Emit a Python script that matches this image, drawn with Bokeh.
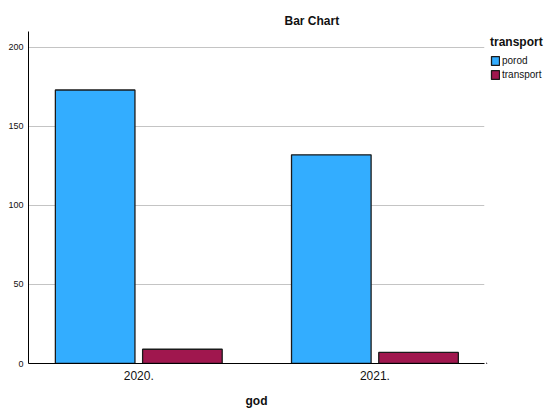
from bokeh.plotting import figure
from bokeh.models import (ColumnDataSource, Range1d, FixedTicker, Legend, LegendItem)
from bokeh.layouts import row
from bokeh.transform import dodge
from bokeh.embed import file_html
from bokeh.resources import INLINE

years = ["2020.", "2021."]
porod = [173, 132]
transport = [9, 7]
series = ["porod", "transport"]
colors = ["#33adff", "#a0174e"]

FONT = "Liberation Sans"
TXT = "#111111"

src = ColumnDataSource(dict(x=list(range(len(years))), porod=porod, transport=transport))

p = figure(width=486, height=410,
           x_range=Range1d(-0.467, 1.464), y_range=Range1d(0, 210),
           output_backend="svg", toolbar_location=None,
           min_border_left=28, min_border_right=2,
           min_border_top=31, min_border_bottom=46,
           outline_line_color=None)

offsets = [-0.1847, 0.1847]
for name, col, off in zip(series, colors, offsets):
    p.vbar(x=dodge('x', off), top=name, width=0.337, source=src,
           fill_color=col, line_color="#1a1a1a", line_width=1.3)

# title
p.title.text = "Bar Chart"
p.title.text_font = FONT
p.title.text_font_style = "bold"
p.title.text_font_size = "12px"
p.title.text_color = TXT
p.title.align = "left"
p.title.offset = 256
p.title.standoff = 8

# x axis
p.xaxis.ticker = FixedTicker(ticks=list(range(len(years))))
p.xaxis.major_label_overrides = {i: y for i, y in enumerate(years)}
p.xaxis.axis_label = "god"
p.xaxis.axis_label_text_font = FONT
p.xaxis.axis_label_text_font_style = "bold"
p.xaxis.axis_label_text_font_size = "12px"
p.xaxis.axis_label_text_color = TXT
p.xaxis.axis_label_standoff = 11
p.xaxis.major_label_text_font = FONT
p.xaxis.major_label_text_font_size = "12px"
p.xaxis.major_label_text_color = TXT
p.xaxis.major_label_standoff = 7
p.xaxis.major_tick_in = 0
p.xaxis.major_tick_out = 0
p.xaxis.minor_tick_line_color = None
p.xaxis.axis_line_color = "#000000"
p.xaxis.axis_line_width = 1

# y axis
p.yaxis.ticker = FixedTicker(ticks=[0, 50, 100, 150, 200])
p.yaxis.major_label_text_font = FONT
p.yaxis.major_label_text_font_size = "9px"
p.yaxis.major_label_text_color = TXT
p.yaxis.major_label_standoff = 5
p.yaxis.major_tick_in = 0
p.yaxis.major_tick_out = 0
p.yaxis.minor_tick_line_color = None
p.yaxis.axis_line_color = "#000000"
p.yaxis.axis_line_width = 1

p.xgrid.grid_line_color = None
p.ygrid.grid_line_color = "#c4c4c4"
p.ygrid.grid_line_width = 1

# legend panel (separate small figure so it is not clipped by the main frame);
# its ranges keep the proxy bars out of view, only the legend is shown
lg = figure(width=64, height=410, x_range=Range1d(1000, 1001), y_range=Range1d(1000, 1001),
            output_backend="svg", toolbar_location=None,
            min_border_left=0, min_border_top=31, min_border_right=0,
            min_border_bottom=46, outline_line_color=None,
            x_axis_type=None, y_axis_type=None)
lg.grid.visible = False
items = []
for name, col in zip(series, colors):
    r = lg.vbar(x='x', top=name, bottom=name, width=0.1, source=src,
                fill_color=col, line_color="#1a1a1a", line_width=1.3)
    items.append(LegendItem(label=name, renderers=[r]))

legend = Legend(items=items, location="top_left", title="transport",
                title_text_font=FONT, title_text_font_style="bold",
                title_text_font_size="12px", title_text_color=TXT, title_standoff=5,
                label_text_font=FONT, label_text_font_size="10px", label_text_color=TXT,
                glyph_width=10, glyph_height=11, label_height=12,
                label_standoff=2, spacing=2, padding=0, margin=4,
                border_line_color=None, background_fill_alpha=0)
lg.add_layout(legend, "center")

layout = row(p, lg)
open("out.html", "w").write(file_html(layout, INLINE))
